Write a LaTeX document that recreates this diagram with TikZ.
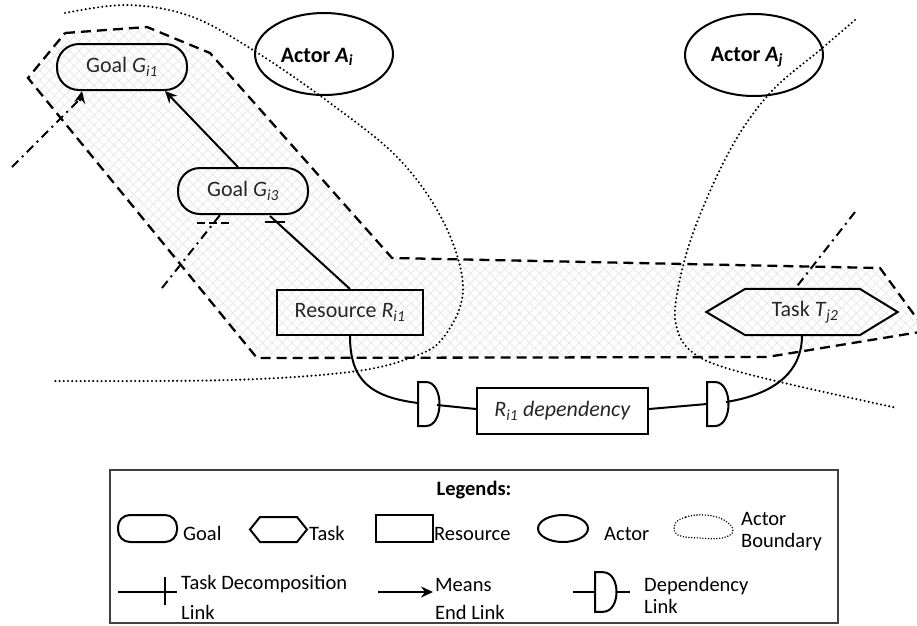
\documentclass[tikz,border=0pt]{standalone}
\usepackage{fontspec}
\setmainfont{Carlito}
\usetikzlibrary{arrows.meta,patterns.meta,calc,shapes.geometric}
\begin{document}
\begin{tikzpicture}[x=1pt,y=-1pt,
  main/.style={font=\fontsize{22}{26}\selectfont, text=black!85},
  leg/.style={font=\fontsize{20.5}{25}\selectfont, text=black, inner sep=0pt},
  goal/.style={main, draw, line width=2pt, rounded corners=22pt, minimum width=130pt, minimum height=46pt, inner sep=0pt},
  actor/.style={draw, ellipse, line width=2pt, minimum width=138pt, minimum height=82pt, inner sep=0pt},
  actortext/.style={font=\bfseries\fontsize{22}{26}\selectfont, text=black, inner sep=0pt},
  res/.style={main, draw, line width=2pt, minimum width=146pt, minimum height=45pt, inner sep=0pt},
  link/.style={line width=2pt},
  bnd/.style={line width=2.3pt, dash pattern=on 10pt off 6pt},
  dotb/.style={line width=2.3pt, line cap=round, dash pattern=on 0pt off 4.2pt},
  dashdot/.style={line width=2pt, dash pattern=on 9pt off 5pt on 2pt off 5pt},
  tip/.style={-{Stealth[length=12pt,width=11pt,inset=4pt]}},
  hatch/.style={pattern={Lines[angle=45,distance=7pt,line width=0.8pt]}, pattern color=black!9},
  hatchb/.style={pattern={Lines[angle=-45,distance=7pt,line width=0.8pt]}, pattern color=black!9},
  depshape/.pic={\draw[line width=2pt] (0,-22) -- (8,-22) .. controls (26,-22) and (26,22) .. (8,22) -- (0,22) -- cycle;}
]
\useasboundingbox (0,0) rectangle (917,625);
\clip (0,0) rectangle (917,625);

% shaded region
\path[hatch] (65,33) -- (147,27) -- (210,53) -- (392,258) -- (880,268) -- (926,331) -- (767,357) -- (257,358) -- (28,78) -- cycle;
\path[hatchb] (65,33) -- (147,27) -- (210,53) -- (392,258) -- (880,268) -- (926,331) -- (767,357) -- (257,358) -- (28,78) -- cycle;
\draw[bnd] (65,33) -- (147,27) -- (210,53) -- (392,258) -- (880,268) -- (926,331) -- (767,357) -- (257,358) -- (28,78) -- cycle;

% actor boundaries
\draw[dotb] plot[smooth, tension=0.6] coordinates {(65,13) (127,5) (190,16) (253,50) (330,103) (400,160) (445,225) (463,290) (443,338) (410,358) (350,372) (230,380) (55,381)};
\draw[dotb] plot[smooth, tension=0.6] coordinates {(855,20) (820,50) (770,93) (730,150) (693,233) (676,300) (678,332) (692,352) (720,366) (780,382) (897,408)};

% nodes
\node[goal] (G1) at (122,67) {Goal \textit{G}\textsubscript{\textit{i1}}};
\node[goal] (G3) at (243,191) {Goal \textit{G}\textsubscript{\textit{i3}}};
\node[actor] (Ai) at (324,54) {};
\node[actortext] (AiT) at (317,57) {Actor \textit{A}\textsubscript{\textit{i}}};
\node[actor] (Aj) at (754,55) {};
\node[actortext] (AjT) at (747,57) {Actor \textit{A}\textsubscript{\textit{j}}};
\node[res] (R) at (350,312.5) {Resource \textit{R}\textsubscript{\textit{i1}}};
\node[main, minimum width=191pt, minimum height=46pt, inner sep=0pt] (T) at (802,312) {\hspace{6pt}Task \textit{T}\textsubscript{\textit{j2}}};
\draw[link] (T.west) -- ($(T.north west)+(39,0)$) -- ($(T.north east)+(-38,0)$) -- (T.east) -- ($(T.south east)+(-38,0)$) -- ($(T.south west)+(39,0)$) -- cycle;
\node[res, minimum width=171pt, minimum height=46pt] (Dep) at (562.5,411) {\textit{R}\textsubscript{\textit{i1}} \textit{dependency}};

% dependency D shapes
\coordinate (D1w) at (418,403);
\coordinate (D1e) at (437,405);
\coordinate (D2w) at (707,404);
\coordinate (D2e) at (726,402);
\pic at (418,404) {depshape};
\pic at (707,404) {depshape};

% links
\draw[link, tip] ($(G3.north)+(-5,0)$) -- ($(G1.south)+(43,0)$);
\draw[link] (R.north) -- ($(G3.south)+(27,1)$);
\draw[link] (265,222) -- (285,222);
\draw[link] (R.south) .. controls (350,380) and (370,397) .. (D1w);
\draw[link] (D1e) -- ($(Dep.west)+(0,-2)$);
\draw[link] ($(Dep.east)+(0,-2)$) -- (D2w);
\draw[link] (D2e) .. controls (770,395) and (802,375) .. (T.south);

% dash-dot contribution lines
\coordinate (dd1) at (12,167);
\coordinate (dd2) at (162,288);
\coordinate (dd3) at (855,212);
\draw[dashdot] (dd1) -- ($(G1.south)+(-44,10)$);
\draw[link, tip] ($(G1.south)+(-42,10)$) -- ($(G1.south)+(-40,0)$);
\draw[dashdot] (dd2) -- ($(G3.south)+(-23,0)$);
\draw[line width=2pt, dash pattern=on 8pt off 4pt] (197,223) -- (232,223);
\draw[dashdot] (dd3) -- ($(T.north)+(-7,0)$);

% legend
\node[draw=black!75, line width=1.2pt, minimum width=728pt, minimum height=153pt, inner sep=0pt] (legbox) at (474,546.5) {};
\node[leg, font=\bfseries\fontsize{20.5}{25}\selectfont] (legtitle) at (474,490) {Legends:};
\node[draw, line width=2pt, rounded corners=12pt, minimum width=59pt, minimum height=27pt, inner sep=0pt] (lgG) at (147.5,528.5) {};
\node[leg, anchor=base west] (lgGt) at (183,540) {Goal};
\draw[link] (250,529.5) -- (260,517) -- (297,517) -- (307,529.5) -- (297,542) -- (260,542) -- cycle;
\node[leg, anchor=base west] (lgTt) at (309,540) {Task};
\node[draw, line width=2pt, minimum width=57pt, minimum height=27pt, inner sep=0pt] (lgR) at (404.5,528.5) {};
\node[leg, anchor=base west] (lgRt) at (434,540) {Resource};
\node[draw, ellipse, line width=2pt, minimum width=50pt, minimum height=27pt, inner sep=0pt] (lgA) at (563,528.5) {};
\node[leg, anchor=base west] (lgAt) at (604,540) {Actor};
\draw[line width=1.6pt, line cap=round, dash pattern=on 0pt off 2.8pt] plot[smooth cycle, tension=0.7] coordinates {(675,524) (686,517) (705,515) (724,520) (733,531) (722,538) (700,538) (678,535)};
\node[leg, anchor=base west] (lgBt1) at (741,525) {Actor};
\node[leg, anchor=base west] (lgBt2) at (741,547) {Boundary};
\coordinate (lgTD1) at (118,592);
\coordinate (lgTD2) at (177,592);
\draw[link] (lgTD1) -- (lgTD2);
\draw[link] (165,577) -- (165,605);
\node[leg, anchor=base west] (lgTDt1) at (181,589) {Task Decomposition};
\node[leg, anchor=base west] (lgTDt2) at (181,619) {Link};
\coordinate (lgME1) at (378,592);
\coordinate (lgME2) at (433,592);
\draw[link, tip] (lgME1) -- (lgME2);
\node[leg, anchor=base west] (lgMEt1) at (435,591) {Means};
\node[leg, anchor=base west] (lgMEt2) at (435,619) {End Link};
\coordinate (lgD1) at (573,592);
\coordinate (lgD2) at (630,592);
\draw[link] (lgD1) -- (595,592);
\pic[yscale=0.9] at (595,592) {depshape};
\draw[link] (616,592) -- (lgD2);
\node[leg, anchor=base west] (lgDt1) at (644,591) {Dependency};
\node[leg, anchor=base west] (lgDt2) at (644,613) {Link};
\end{tikzpicture}
\end{document}
